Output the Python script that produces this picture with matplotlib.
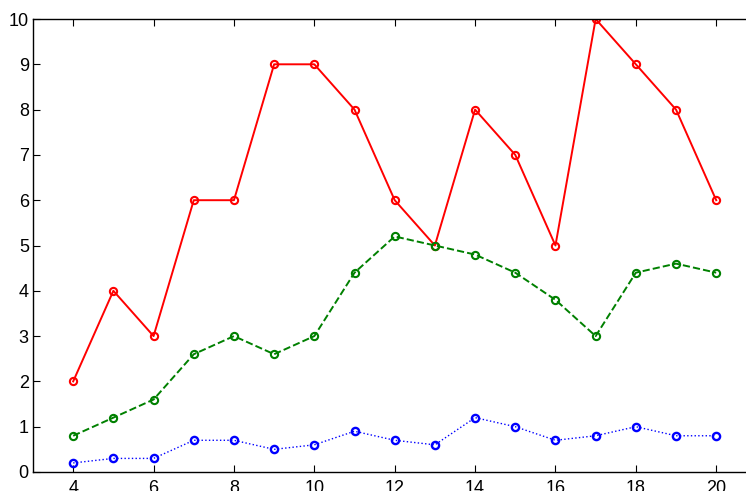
import matplotlib
matplotlib.use("Agg")
import matplotlib.pyplot as plt

x = list(range(4, 21))
red = [2, 4, 3, 6, 6, 9, 9, 8, 6, 5, 8, 7, 5, 10, 9, 8, 6]
green = [0.8, 1.2, 1.6, 2.6, 3.0, 2.6, 3.0, 4.4, 5.2, 5.0, 4.8, 4.4, 3.8, 3.0, 4.4, 4.6, 4.4]
blue = [0.2, 0.3, 0.3, 0.7, 0.7, 0.5, 0.6, 0.9, 0.7, 0.6, 1.2, 1.0, 0.7, 0.8, 1.0, 0.8, 0.8]
xticks = [4, 6, 8, 10, 12, 14, 16, 18, 20]
yticks = list(range(0, 11))

plt.rcParams['font.family'] = ['Liberation Sans', 'DejaVu Sans']
fig = plt.figure(figsize=(7.46, 4.91), dpi=100)
ax = fig.add_axes([33/746, 19/491, 723.4/746, 453/491])

ax.plot(x, red, '-', color=(1, 0, 0), lw=1.4, marker='o', ms=5.2, mfc='none', mew=1.5)
ax.plot(x, green, '--', color=(0, 0.5, 0), lw=1.4, marker='o', ms=5.2, mfc='none', mew=1.5)
ax.plot(x, blue, ':', color=(0, 0, 1), lw=1.0, marker='o', ms=5.2, mfc='none', mew=1.7)

ax.set_xlim(3, 21)
ax.set_ylim(0, 10)
ax.set_xticks(xticks)
ax.set_yticks(yticks)
ax.tick_params(direction='in', length=5, width=0.8, labelsize=13, top=True, right=False)
ax.tick_params(axis='x', pad=5.5)
ax.tick_params(axis='y', pad=3)
ax.spines['right'].set_visible(False)
for s in ax.spines.values():
    s.set_linewidth(1.0)

fig.savefig('out.png', dpi=100)
